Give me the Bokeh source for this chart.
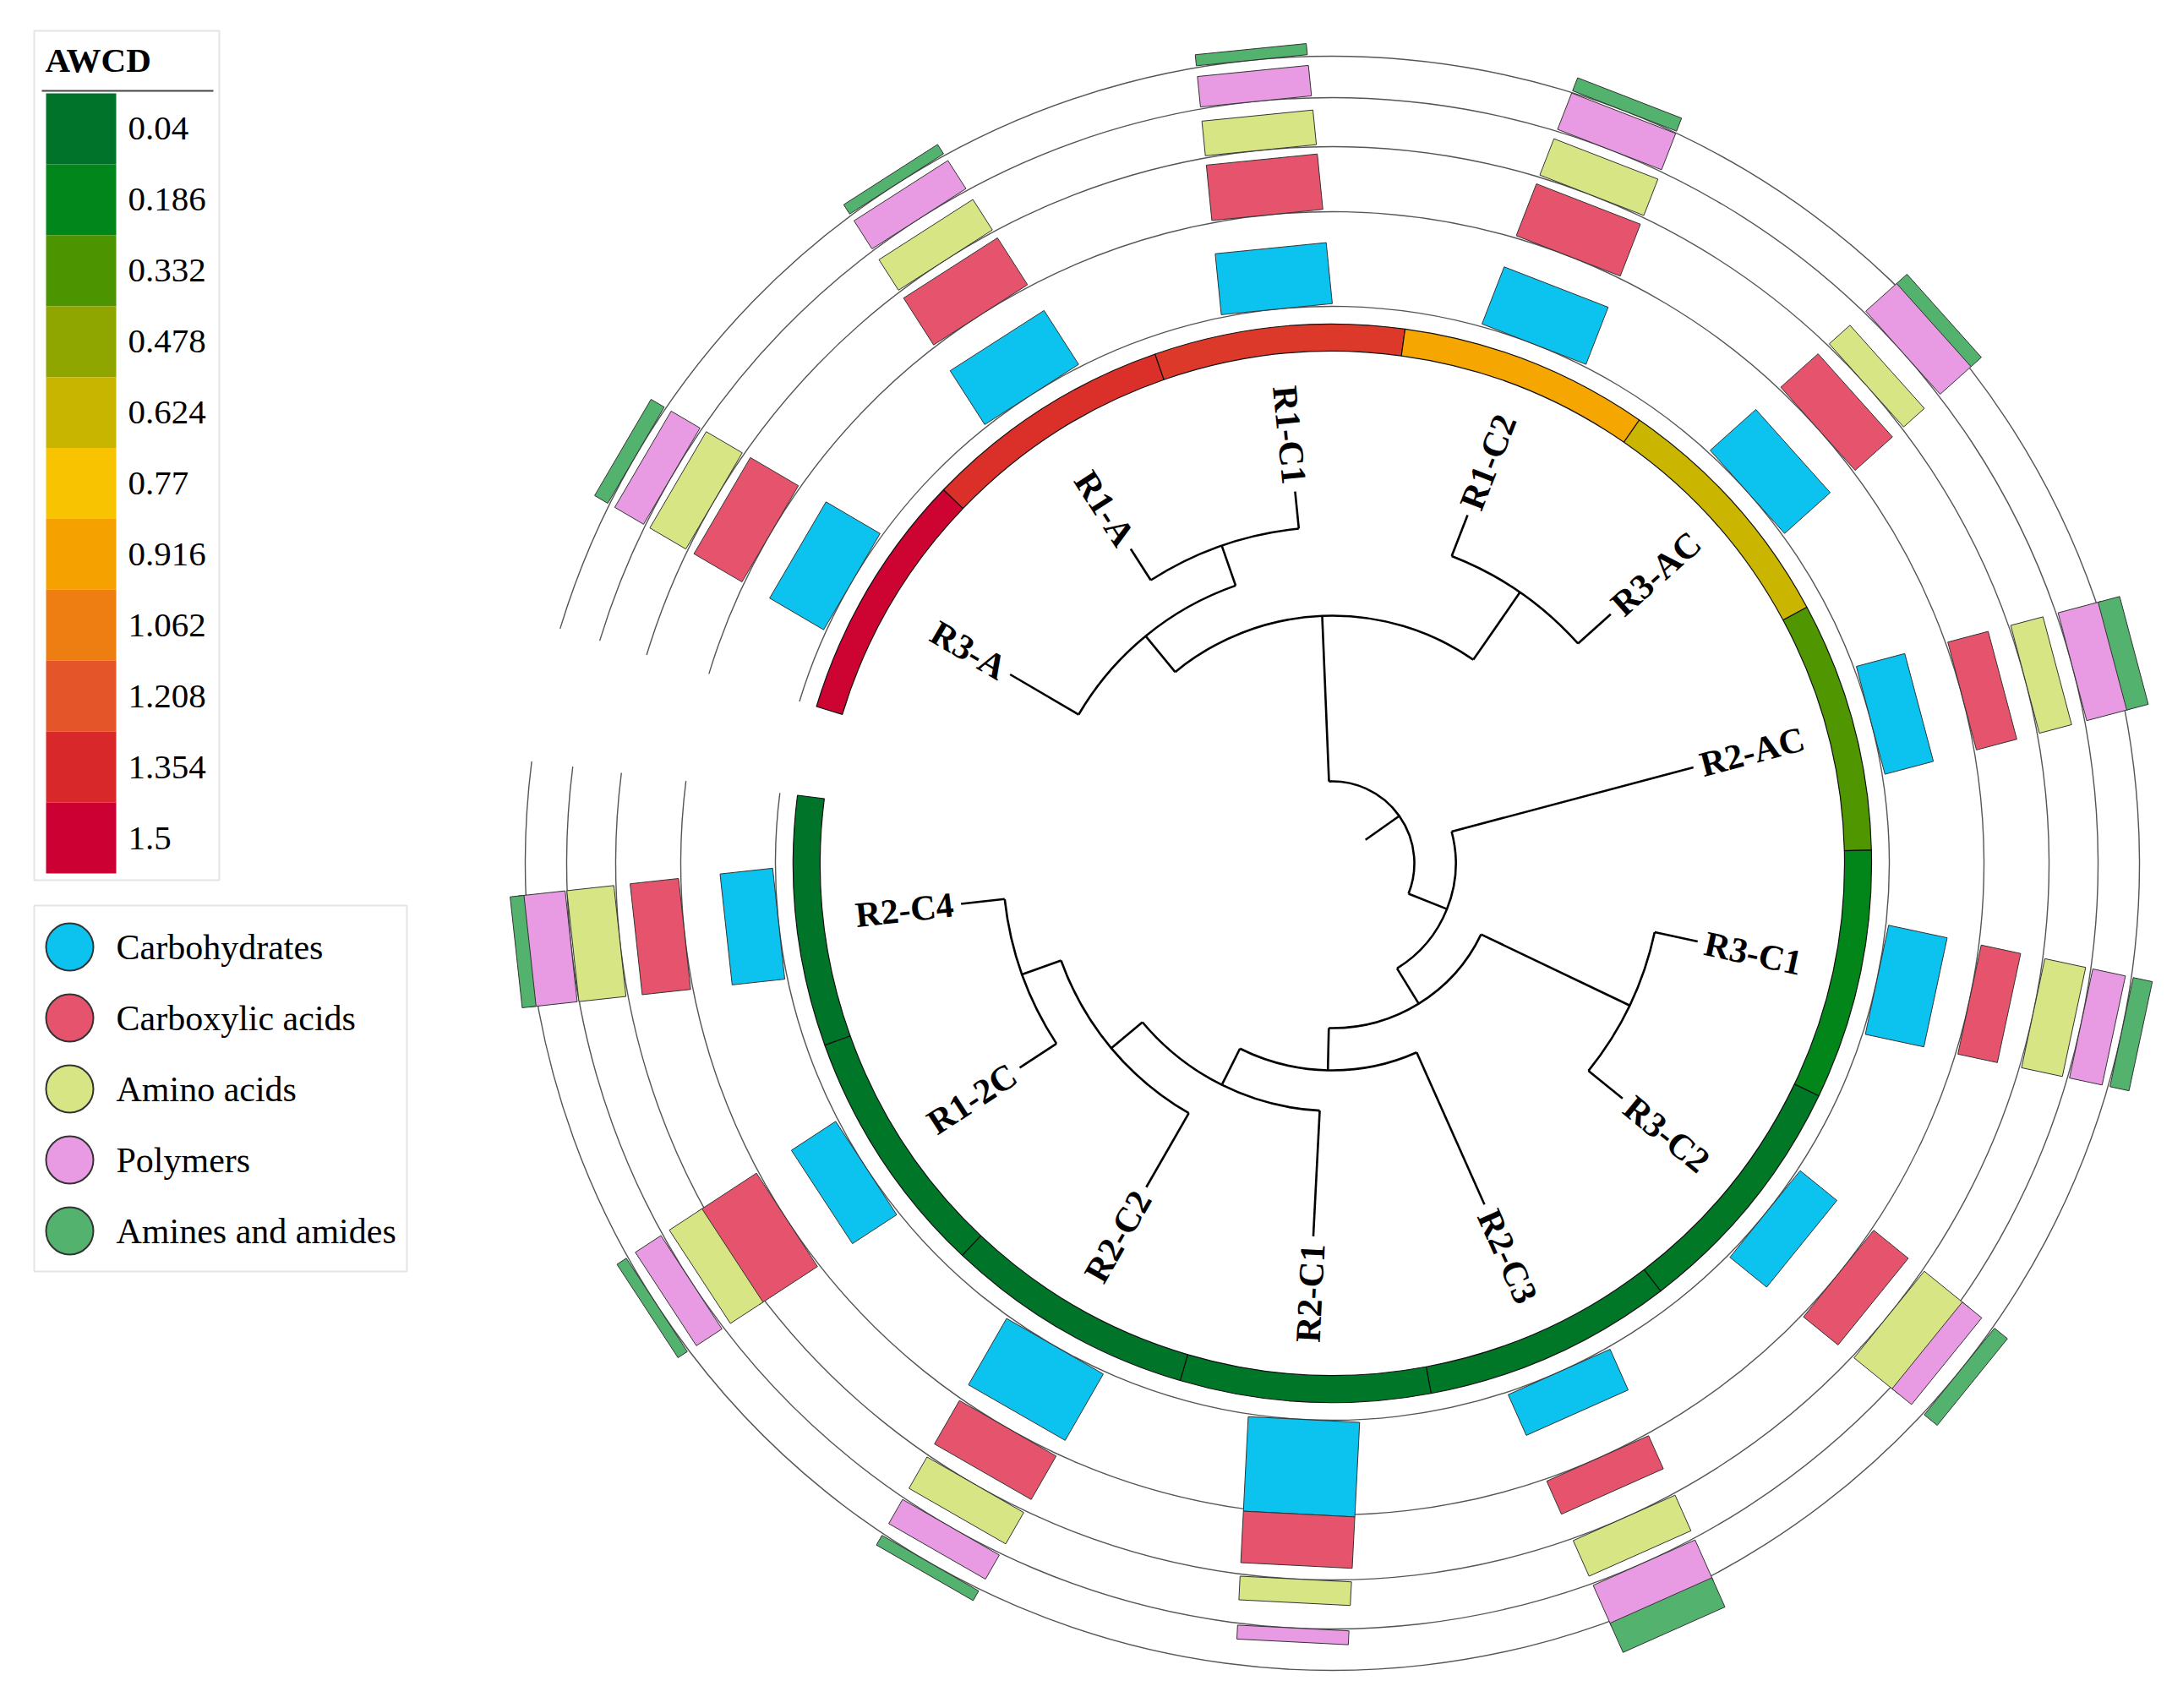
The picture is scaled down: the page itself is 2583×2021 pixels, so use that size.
import math
from bokeh.plotting import figure
from bokeh.models import Range1d
from bokeh.core.properties import value
from bokeh.embed import file_html
from bokeh.resources import INLINE

# ---------------- data ----------------
leaves = ["R3-A", "R1-A", "R1-C1", "R1-C2", "R3-AC", "R2-AC", "R3-C1",
          "R3-C2", "R2-C3", "R2-C1", "R2-C2", "R1-2C", "R2-C4"]

# hierarchical clustering merges: (node, child1, child2, height)
merge_node = ["A11", "A1", "A2", "A", "D", "H", "G", "F", "E", "C", "B", "root"]
merge_left = ["R1-A", "R3-A", "R1-C2", "A1", "R3-C1", "R1-2C", "H", "G", "R2-C3", "D", "R2-AC", "A"]
merge_right = ["R1-C1", "A11", "R3-AC", "A2", "R3-C2", "R2-C4", "R2-C2", "R2-C1", "F", "E", "C", "B"]
merge_height = [0.44, 0.94, 0.52, 1.49, 0.52, 0.52, 1.01, 1.49, 1.97, 2.47, 2.96, 3.45]
root_edge = 0.49

# AWCD per sample (ring colour)
awcd = [1.49, 1.33, 1.30, 0.90, 0.63, 0.34, 0.19, 0.08, 0.07, 0.06, 0.05, 0.06, 0.05]

# AWCD colour key
awcd_breaks = [0.04, 0.186, 0.332, 0.478, 0.624, 0.77, 0.916, 1.062, 1.208, 1.354, 1.5]
awcd_labels = ["0.04", "0.186", "0.332", "0.478", "0.624", "0.77", "0.916", "1.062", "1.208", "1.354", "1.5"]
awcd_colors = ["#00732A", "#00861B", "#4C9500", "#8FA600", "#C8B500", "#F8C300",
               "#F5A200", "#EE7E12", "#E5552A", "#D9282A", "#CC0033"]

# substrate-category values per sample (same order as leaves)
categories = ["Carbohydrates", "Carboxylic acids", "Amino acids", "Polymers", "Amines and amides"]
cat_colors = ["#0BC3EE", "#E5546C", "#D7E585", "#E89BE3", "#52B26E"]
carbohydrates = [0.45, 0.46, 0.44, 0.44, 0.44, 0.36, 0.43, 0.34, 0.32, 0.68, 0.55, 0.38, 0.38]
carboxylic = [0.40, 0.40, 0.40, 0.40, 0.36, 0.30, 0.29, 0.32, 0.26, 0.37, 0.36, 0.50, 0.35]
amino = [0.30, 0.26, 0.25, 0.28, 0.20, 0.24, 0.30, 0.42, 0.28, 0.17, 0.26, 0.28, 0.34]
polymers = [0.24, 0.24, 0.22, 0.28, 0.30, 0.32, 0.24, 0.18, 0.32, 0.10, 0.20, 0.22, 0.34]
amines = [0.11, 0.08, 0.08, 0.10, 0.10, 0.16, 0.14, 0.12, 0.23, 0.00, 0.08, 0.08, 0.10]
cat_values = [carbohydrates, carboxylic, amino, polymers, amines]

# ---------------- geometry ----------------
W, H = 2567, 2005
CX, CY = 1576.0, 1000.0          # circle centre (data coords, y up)
TIP_R = 442.0                    # radius of leaf tips
UNIT = 100.0                     # px per height unit
START = 163.1                    # angle where the fan starts (deg)
STEP = 26.95                     # degrees per leaf
RING_IN, RING_OUT = 606.0, 638.0
LAYER_BASE = [659.0, 771.0, 848.0, 906.0, 955.0]
BAR_UNIT = 164.7                 # px per category value unit
BAR_W = 132.0

def pol(r, deg):
    a = math.radians(deg)
    return CX + r * math.cos(a), CY + r * math.sin(a)

def hex2rgb(h):
    h = h.lstrip("#")
    return tuple(int(h[i:i + 2], 16) for i in (0, 2, 4))

def color_for(v):
    if v <= awcd_breaks[0]:
        return awcd_colors[0]
    if v >= awcd_breaks[-1]:
        return awcd_colors[-1]
    for i in range(len(awcd_breaks) - 1):
        a, b = awcd_breaks[i], awcd_breaks[i + 1]
        if a <= v <= b:
            t = (v - a) / (b - a)
            c1, c2 = hex2rgb(awcd_colors[i]), hex2rgb(awcd_colors[i + 1])
            c = [round(c1[k] + (c2[k] - c1[k]) * t) for k in range(3)]
            return "#%02X%02X%02X" % tuple(c)

p = figure(width=W, height=H, output_backend="svg", toolbar_location=None,
           x_range=Range1d(0, W), y_range=Range1d(2021 - H, 2021),
           min_border=0, min_border_left=0, min_border_right=0,
           min_border_top=0, min_border_bottom=0)
p.axis.visible = False
p.grid.visible = False
p.outline_line_color = None
p.background_fill_color = "white"

# ---------------- tree ----------------
angle = {}
radius = {}
for i, lf in enumerate(leaves):
    angle[lf] = START - STEP * (i + 0.5)
    radius[lf] = TIP_R
for n, l, r, h in zip(merge_node, merge_left, merge_right, merge_height):
    angle[n] = (angle[l] + angle[r]) / 2.0
    radius[n] = TIP_R - h * UNIT

seg_x0, seg_y0, seg_x1, seg_y1 = [], [], [], []
arc_x, arc_y, arc_r, arc_s, arc_e = [], [], [], [], []
for n, l, r in zip(merge_node, merge_left, merge_right):
    rn = radius[n]
    a1, a2 = sorted([angle[l], angle[r]])
    arc_x.append(CX); arc_y.append(CY); arc_r.append(rn)
    arc_s.append(math.radians(a1)); arc_e.append(math.radians(a2))
    for c in (l, r):
        x0, y0 = pol(rn, angle[c])
        x1, y1 = pol(radius[c], angle[c])
        seg_x0.append(x0); seg_y0.append(y0); seg_x1.append(x1); seg_y1.append(y1)
# root edge
x0, y0 = pol(radius["root"] - root_edge * UNIT, angle["root"])
x1, y1 = pol(radius["root"], angle["root"])
seg_x0.append(x0); seg_y0.append(y0); seg_x1.append(x1); seg_y1.append(y1)

p.arc(x=arc_x, y=arc_y, radius=arc_r, start_angle=arc_s, end_angle=arc_e,
      direction="anticlock", line_color="black", line_width=2.6)
p.segment(x0=seg_x0, y0=seg_y0, x1=seg_x1, y1=seg_y1, line_color="black", line_width=2.6)

# leaf labels
for lf in leaves:
    a = angle[lf]
    x, y = pol(TIP_R + 9, a)
    if -90 < a <= 90:
        rot, al = a, "left"
    else:
        rot, al = a + 180, "right"
    p.text(x=[x], y=[y], text=[lf], angle=[math.radians(rot)], text_align=al,
           text_baseline="middle", text_font=value("Liberation Serif"),
           text_font_size=value("42px"), text_font_style="bold", text_color="black")

# ---------------- AWCD ring ----------------
ring_s = [math.radians(angle[lf] - STEP / 2) for lf in leaves]
ring_e = [math.radians(angle[lf] + STEP / 2) for lf in leaves]
p.annular_wedge(x=[CX] * len(leaves), y=[CY] * len(leaves), inner_radius=RING_IN,
                outer_radius=RING_OUT, start_angle=ring_s, end_angle=ring_e,
                fill_color=[color_for(v) for v in awcd], line_color="#111111", line_width=1.2)

# ---------------- outer layers ----------------
gap_start = START - STEP * len(leaves)
for base in LAYER_BASE:
    p.arc(x=[CX], y=[CY], radius=[base], start_angle=[math.radians(gap_start)],
          end_angle=[math.radians(START)], direction="anticlock",
          line_color="#555555", line_width=1.4)

for k in range(len(categories)):
    xs, ys, ws, angs = [], [], [], []
    for i, lf in enumerate(leaves):
        v = cat_values[k][i]
        if v <= 0:
            continue
        L = v * BAR_UNIT
        x, y = pol(LAYER_BASE[k] + L / 2, angle[lf])
        xs.append(x); ys.append(y); ws.append(L); angs.append(math.radians(angle[lf]))
    p.rect(x=xs, y=ys, width=ws, height=BAR_W, angle=angs, fill_color=cat_colors[k],
           line_color="#333333", line_width=1.0)

# ---------------- legends (ref pixel coords -> data) ----------------
def fy(ry):
    return 2021 - ry

# AWCD key
p.quad(left=[40], right=[259], top=[fy(36)], bottom=[fy(1041)], fill_color="white",
       line_color="#e4e4e4", line_width=2)
p.text(x=[53], y=[fy(70)], text=["AWCD"], text_align="left", text_baseline="middle",
       text_font=value("Liberation Serif"), text_font_size=value("41px"),
       text_font_style="bold", text_color="black")
p.segment(x0=[49], y0=[fy(107)], x1=[252], y1=[fy(107)], line_color="#444444", line_width=2)
nb = len(awcd_breaks)
top0, bot0 = 110.0, 1033.0
bh = (bot0 - top0) / nb
p.quad(left=[54] * nb, right=[137] * nb,
       top=[fy(top0 + i * bh) for i in range(nb)],
       bottom=[fy(top0 + (i + 1) * bh) for i in range(nb)],
       fill_color=awcd_colors, line_color=None)
p.text(x=[151] * nb, y=[fy(top0 + (i + 0.5) * bh) for i in range(nb)], text=awcd_labels,
       text_align="left", text_baseline="middle", text_font=value("Liberation Serif"),
       text_font_size=value("41px"), text_color="black")

# category legend
p.quad(left=[40], right=[481], top=[fy(1071)], bottom=[fy(1504)], fill_color="white",
       line_color="#e4e4e4", line_width=2)
leg_y = [1120, 1204, 1288, 1372, 1456]
p.scatter(x=[82] * 5, y=[fy(v) for v in leg_y], size=56, fill_color=cat_colors,
          line_color="#333333", line_width=2)
p.text(x=[137] * 5, y=[fy(v) for v in leg_y], text=categories, text_align="left",
       text_baseline="middle", text_font=value("Liberation Serif"),
       text_font_size=value("42px"), text_color="black")

open("out.html", "w").write(file_html(p, INLINE))
